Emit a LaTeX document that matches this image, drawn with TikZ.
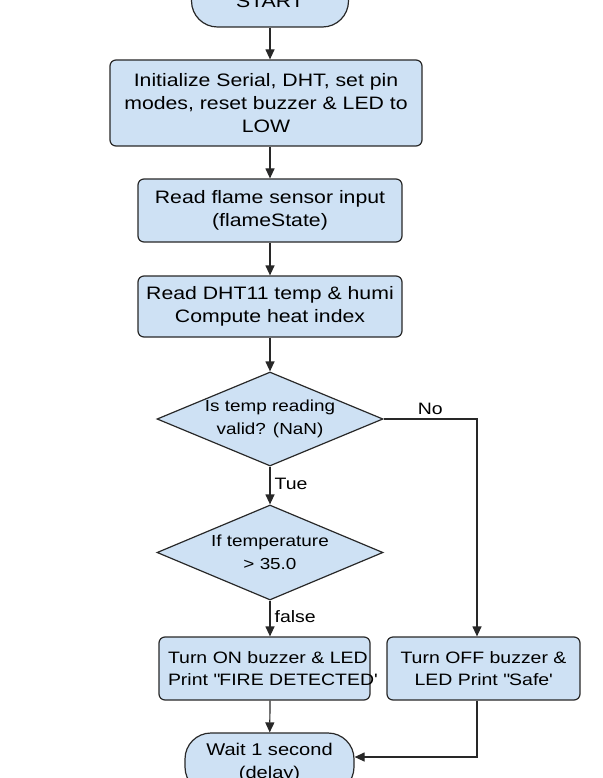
\documentclass[tikz,border=0pt]{standalone}
\usepackage{fontspec}
\setmainfont{Liberation Sans}[FakeStretch=1.18]
\usetikzlibrary{shapes.geometric,arrows.meta}
\definecolor{boxblue}{RGB}{206,225,244}
\definecolor{edgegray}{RGB}{40,40,40}

\begin{document}
\begin{tikzpicture}[x=1pt,y=-1pt,
  every node/.style={font=\fontsize{18}{23}\selectfont},
  proc/.style={draw=edgegray,fill=boxblue,line width=1.2pt,rounded corners=6pt,align=center,inner sep=0pt},
  term/.style={proc,rounded corners=26pt},
  cond/.style={diamond,draw=edgegray,fill=boxblue,line width=1.2pt,align=center,inner sep=0pt,
    aspect=2.4,minimum width=226pt,minimum height=94pt,font=\fontsize{16}{23}\selectfont},
  small/.style={font=\fontsize{16.5}{22}\selectfont},
  lbl/.style={font=\fontsize{16.5}{20}\selectfont,inner sep=4pt},
  flow/.style={draw=edgegray,line width=1.2pt,-{Triangle[length=10pt,width=9pt]}}]
  \useasboundingbox (0,0) rectangle (602,778);
  % ---------------- main column ----------------
  \node[term,minimum width=157pt,minimum height=52pt] (start) at (270,1) {START};
  \node[proc,minimum width=312pt,minimum height=86pt] (init) at (266,103)
    {Initialize Serial, DHT, set pin\\modes, reset buzzer \& LED to\\LOW};
  \node[proc,minimum width=264pt,minimum height=63pt] (flame) at (270,210.5)
    {Read flame sensor input\\(flameState)};
  \node[proc,minimum width=264pt,minimum height=61pt] (dht) at (270,306.5)
    {Read DHT11 temp \& humi\\Compute heat index};
  \node[cond] (valid) at (270,419) {Is temp reading\\valid? (NaN)};
  \node[cond,minimum height=95pt] (hot) at (270,552.5) {If temperature\\> 35.0};
  % ---------------- actions ----------------
  \node[proc,small,align=left,text width=193pt,inner xsep=9pt,minimum height=63pt] (fireon) at (264.5,668.5)
    {\mbox{Turn ON buzzer \& LED}\\\mbox{Print \textquotedbl FIRE DETECTED\textquotesingle}};
  \node[proc,small,minimum width=193pt,minimum height=63pt] (fireoff) at (483.5,668.5)
    {Turn OFF buzzer \&\\LED Print \textquotedbl Safe\textquotesingle};
  \node[term,font=\fontsize{17}{23}\selectfont,minimum width=169pt,minimum height=60pt] (wait) at (269.5,763)
    {Wait 1 second\\(delay)};
  \coordinate (nobend) at (477,419);
  % ---------------- connectors ----------------
  \draw[flow] (start) -- (start |- init.north);
  \draw[flow] (init.south -| flame) -- (flame);
  \draw[flow] (flame) -- (dht);
  \draw[flow] (dht) -- (valid);
  \draw[flow] (valid) -- node[lbl,right,pos=0.45] {Tue} (hot);
  \draw[flow] (hot) -- node[lbl,right,pos=0.45] {false} (hot.south |- fireon.north);
  \draw[flow] (hot.south |- fireon.south) -- (wait);
  \draw[flow] (valid.east) -- node[lbl,above] {No} (nobend) -- (nobend |- fireoff.north);
  \draw[flow] (nobend |- fireoff.south) |- ([yshift=6pt]wait.east);
\end{tikzpicture}
\end{document}
